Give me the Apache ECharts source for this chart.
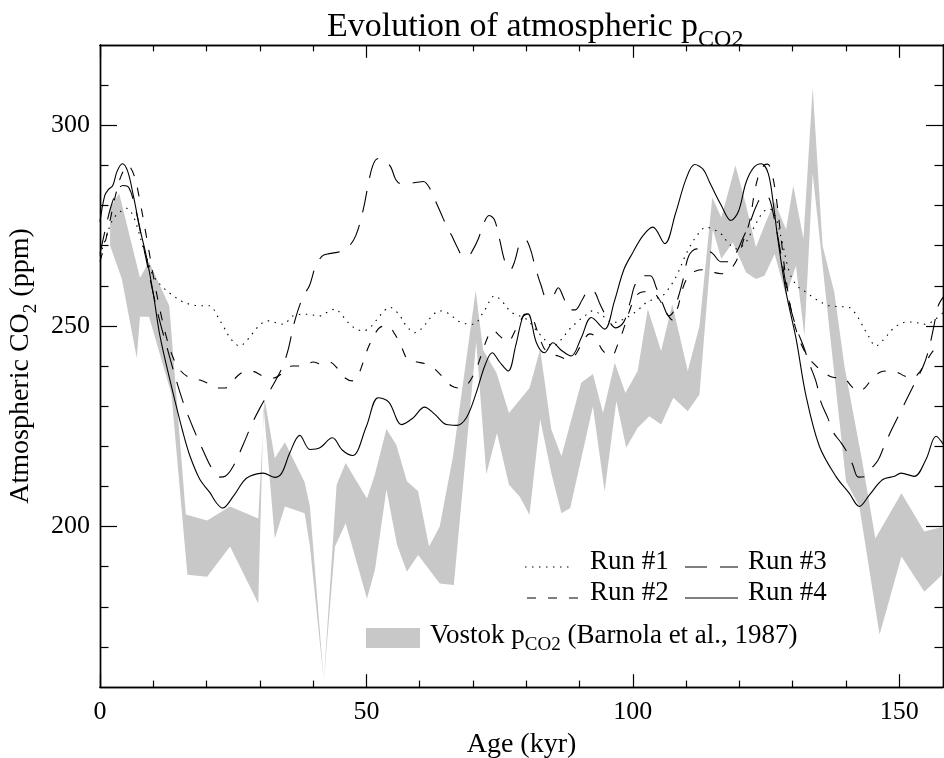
<!DOCTYPE html>
<html>
<head>
<meta charset="utf-8">
<script src="https://cdn.jsdelivr.net/npm/echarts@6/dist/echarts.min.js"></script>
<style>
  html, body { margin: 0; padding: 0; background: #fff; }
  #chart { width: 944px; height: 758px; }
</style>
</head>
<body>
<div id="chart"></div>
<script>
// Axis ticks (kyr and ppm)
const ageMajor = [0, 50, 100, 150];
const ageMinor = [10, 20, 30, 40, 60, 70, 80, 90, 110, 120, 130, 140];
const ppmMajor = [200, 250, 300];
const ppmMinor = [170, 180, 190, 210, 220, 230, 240, 260, 270, 280, 290, 310];

// Vostok ice-core CO2 envelope: upper and lower edges, [age kyr, ppm]
const vostokUpper = [
  [1.9,279.5],[3.6,283],[7.5,262],[9.2,266],[13.0,255],[16.1,203],[20.1,201.5],[24.4,205],
  [29.7,202],[30.9,231.7],[32.8,217],[34.7,221],[38.4,211],[39.4,205],[42.0,161.5],[44.4,210.4],
  [46.1,215.8],[50.1,207],[51.6,213],[53.75,224.3],[55.6,220.4],[57.6,211.3],[59.7,208.8],
  [61.75,195],[63.75,200],[66.25,217.5],[70.5,258.75],[71.9,244],[74.4,238.3],[76.75,228.3],
  [80.6,234.5],[82.6,244.2],[84.7,224.2],[86.6,217.5],[90.3,235.8],[92.5,238],[94.4,228.3],
  [96.6,240.8],[98.6,233.3],[100.9,238.75],[102.8,254.2],[105.3,243.75],[107.4,255.4],
  [110.3,238.75],[112.5,250],[114.9,282],[116.6,277],[119.25,290],[121.25,280],[123.1,269.6],
  [125.0,276],[126.6,281],[128.75,274],[130.1,285],[132.0,271.7],[133.75,309.4],[135.6,270],
  [137.8,258.4],[139.7,240],[143.1,215.8],[145.5,197],[150.4,208.3],[154.7,198.75],[158.3,200]
];
const vostokLower = [
  [1.9,270],[4.1,261.7],[6.9,242],[7.5,252.3],[9.2,252.3],[13.4,233],[16.4,188],[20.1,187.5],
  [24.4,195],[29.7,180.8],[30.7,230],[32.8,197],[34.7,205],[38.4,203.3],[39.4,195],[42.0,161.5],
  [44.1,195],[46.1,200.8],[50.1,182],[51.6,189.2],[53.75,209.2],[55.75,195.4],[57.6,188.75],
  [59.7,192.9],[63.75,185.8],[66.4,185.4],[70.6,246],[72.5,213],[74.5,223.3],[76.75,210.4],
  [78.75,207.5],[80.6,202.9],[82.6,226.7],[84.7,213.3],[86.6,203.3],[88.25,204.6],[92.5,230],
  [94.7,208.75],[96.9,231.25],[98.75,219.6],[100.9,224.6],[103.1,227.5],[105.3,225.4],
  [107.6,232.1],[110.3,228.75],[112.5,232.9],[115.0,274],[116.6,266.7],[118.75,270.8],
  [121.25,263.3],[123.1,261.7],[124.7,262.5],[126.6,267.9],[128.75,257.5],[130.6,265],
  [132.2,247.5],[133.75,288],[136.9,249],[140.0,211.3],[142.5,205],[146.3,173],[150.4,192.5],
  [154.7,183.75],[158.3,188.3]
];

// Model runs, [age kyr, ppm]
const run1 = [
  [0,267.5],[1.25,272.5],[2.5,276.7],[4.1,278.75],[5,279.3],[6,278],[6.9,275],[8,270],[8.75,267.1],
  [10,262.5],[11.9,259.5],[13.75,257.5],[15.5,256],[16.9,255.4],[18.75,255],[20.6,255],[22,252.5],
  [23.1,250],[24.7,246.5],[26.25,245],[27.5,246.3],[28.75,248.3],[30.2,250.5],[31.6,251.25],[33,250.8],
  [34.4,250.4],[36.25,252.5],[38.75,252.9],[41.25,252.5],[42.8,253.5],[44.1,254.2],[45.5,252.5],
  [46.6,250.8],[48,249.3],[49.4,248.75],[51,250],[52.5,252.5],[54.4,254.6],[56,253],[57.5,250],
  [59.1,248.3],[60.5,249.5],[62,252],[63.75,253.75],[65.5,253],[67.5,251],[70,250.4],[72,253.5],
  [74.1,257.5],[75.5,256],[77.2,253.4],[80,251.7],[81.5,249.5],[83.1,247.1],[85,245],[86.5,246.5],
  [88,249],[89.4,250.8],[91,252.5],[92.5,253.75],[94.3,252.5],[96.25,250.8],[98,251.5],[99.4,252.5],
  [101,254],[102.5,255.8],[104,256.7],[105.6,257.5],[108,262],[110.3,268.75],[112.3,273],[113.75,274.6],
  [115.2,274],[116.6,272.9],[118,270.5],[119.4,269.2],[121,270.5],[122.5,274],[124.4,278.3],
  [125.6,279.2],[126.8,277],[128,271],[129.4,263.3],[130.8,260],[132.5,258.4],[134.5,256.5],
  [136.9,255],[138.8,254.8],[140.6,254.6],[141.8,253],[142.8,250.8],[144.2,247.5],[145.6,245],
  [147,246.5],[148.75,249.2],[150.2,250.5],[151.6,251],[153.3,250.8],[155,250.4],[156.6,251.5],[158.3,253.4]
];
const run2 = [
  [0,266],[1,271],[2,277],[3,283],[4,287.5],[5.2,290],[6.4,287.5],[7.5,281],[8.75,272],[10,262.5],
  [11.25,254],[12.5,247],[13.75,242],[15,239],[16.9,237],[18.75,236.5],[20.6,235.5],[22,234.5],
  [23.5,234.5],[25,236.5],[26.9,238.5],[28.5,238.7],[30.6,237.5],[32.5,237],[34.5,238.5],[36,240],
  [38,240],[40,241],[41.5,240.5],[43,241],[44.5,239.5],[46,237],[47.4,236.3],[48.7,238.5],[50,243.5],
  [51.2,247],[52.5,249.6],[54,250],[55.3,248],[56.5,245],[57.8,241.5],[59.5,241],[61.2,240.5],
  [62.6,239.5],[64.5,237],[66,235],[67.5,234.5],[69,235.5],[70.5,239],[71.5,242.5],[72.7,247],
  [73.7,249],[75,247.5],[76.5,246],[78,249],[79.5,252.5],[80.6,253],[82,249],[83.3,244.5],[84.5,243],
  [86,242.5],[87.5,241.8],[89,242.5],[90.2,245],[91.9,248],[92.8,247.5],[94.4,243.75],[96,242.5],
  [97.2,245.5],[98.2,249],[99.3,253.5],[100.6,257.5],[102,258.5],[103.5,258.5],[105,256.5],[106.4,253],
  [107.4,251.5],[108.4,254.5],[109.4,259.5],[110.5,262.5],[111.8,263.7],[113.4,264],[115,263.4],
  [116.6,263],[117.6,263.5],[118.6,264.5],[119.7,267],[120.8,271.5],[121.9,276],[122.8,283],
  [123.6,287.5],[124.6,290],[125.3,290.3],[126.1,288],[126.9,282],[127.8,272],
  [128.7,262],[129.7,254],[131,247.5],[132.5,243],[134,240.5],[135.5,238.8],[137.5,237.2],[139.5,237],
  [141,235],[142.2,233.7],[143.5,234.5],[145,237],[146.5,238.5],[148,238.75],[149.5,238.5],[151,237.5],
  [152.5,237],[153.8,238.5],[155,241],[156.5,244],[158.3,245.5]
];
const run3 = [
  [0,268],[1,274],[2,279.5],[3,283],[4.3,285],[5.4,284.5],[6.5,280],[7.5,274],[8.75,266],[10,258],
  [11.25,251],[12.5,245],[13.75,239],[15.6,231],[17.5,224.5],[19.5,218.5],[21,214.5],[22.5,212.3],
  [23.5,212.5],[25,215],[26.9,220.5],[28.5,225.5],[30,229.5],[31.5,233],[33,236.5],[34.3,240],
  [35.3,244],[36.5,251],[38,257],[39.3,260],[40.5,265],[41.8,267.5],[43,268],[45,268.5],[46.5,269.5],
  [48,272.5],[49.4,279],[50.3,285],[51.2,290],[52.2,291.7],[53.5,291.2],[54.6,289.5],[55.5,286.5],
  [56.5,285.4],[58,285.5],[59.5,285.8],[60.7,286],[62,284],[63,281],[64,278],[65,275],[66,272.5],
  [67,269.7],[68,267.5],[69,267.3],[70,269],[71,271.7],[72,275.5],[73,277.5],[74,276.5],[75,271.5],
  [76,266],[77,264],[77.8,266],[78.8,270.5],[79.8,271.5],[80.8,269],[81.6,265],[82.8,260],[83.8,257],
  [85,257.5],[86,259.5],[87,257],[88.1,254],[89.2,254],[90.5,256.5],[91.8,259],[92.8,258.5],
  [93.8,255.5],[95.3,251.7],[96.8,249.5],[98.3,251],[99.5,256],[100.5,260.5],[102,262.5],[103.3,262.5],
  [104.4,259.5],[105.6,255.5],[106.8,252.5],[107.6,253.5],[108.6,257.5],[109.5,262],[110.5,267.5],
  [112,269.2],[113.5,269],[115,268],[116.5,266],[118,266],[119.5,268.5],[120.6,271.7],[121.9,275.5],
  [123.2,280],[124.5,282.5],[125.5,282],[126.5,277],[127.5,270],[128.5,262],[129.5,255],[130.8,249],
  [132,245],[133,241],[134.4,236],[135.3,231],[136.6,227],[137.6,223.5],[139,221],[140.2,218.5],
  [141.25,215.4],[142.3,212.3],[143.7,212.5],[144.8,214.5],[146,216.5],[147,219.5],[148.5,224],
  [150,228],[151.5,232],[153,236],[154.5,240],[155.5,244],[156.5,250],[157.3,255],[158.3,257.3]
];
const run4 = [
  [0,276],[0.9,282.5],[1.6,284],[2.4,285],[3.2,288.5],[4.2,290.4],[5.2,288.5],[6.25,282.5],[7.5,274.2],
  [8.75,267],[10,258],[11.25,247.5],[13.4,235],[15.6,223.3],[16.9,217.5],[18.75,211.7],[20.6,208.5],
  [21.9,205.8],[23.0,204.6],[25,207.5],[26.9,211.25],[28.1,212.5],[30.6,213.3],[32.8,212.25],
  [34.1,213.3],[35.6,218.3],[37.5,222.7],[39.4,219.2],[41.25,219.6],[43.6,222.1],[45.5,219],
  [47.4,217.7],[50,225],[52.2,232.1],[54.2,231],[56.6,225.4],[58.7,227],[60.9,229.75],[62.8,228],
  [65,225.4],[66.9,225.2],[68.75,227.1],[70.6,233.3],[72.2,240],[73.6,243.3],[75,241],[76.6,238.75],
  [78,245],[79.4,252.5],[80.3,253],[81.9,245.8],[83.4,243.3],[85,245.8],[86.5,244],[88.4,242.5],
  [90.3,247],[92.2,252.1],[94.7,249.2],[96.5,256],[98.3,264],[100,268.3],[101.9,272.5],[103.75,274.6],
  [106,270.5],[108,278],[110,286.7],[111.6,290.2],[113.2,289],[114.4,285.8],[116.6,280],[118.4,276.25],
  [119.8,278.5],[121.25,285.8],[122.7,289.5],[124.1,290.4],[125.4,288],[126.4,280],[127.2,271.7],
  [128.75,258.4],[130.6,247],[132.5,232.5],[135,220],[138.1,212.5],[140.6,208.3],[142.5,205],
  [144.4,207.9],[146.9,211.7],[149.1,212.5],[150.3,213.3],[152.8,212.5],[155,216.7],[156.9,222.5],
  [158.3,220.4]
];

const runNames = ['Run #1', 'Run #2', 'Run #3', 'Run #4'];
const runData = [run1, run2, run3, run4];
const runDash = [[1.5, 5.5], [9, 12], [22, 13], 'solid'];

const SERIF = '"Liberation Serif", "Times New Roman", serif';
const INK = '#000';
const BAND = '#c8c8c8';
const AGE_MAX = 158.2;

const chart = echarts.init(document.getElementById('chart'), null, { renderer: 'canvas' });

function ageAxis(pos, values, len, labels) {
  return {
    type: 'value', position: pos, min: 0, max: AGE_MAX,
    axisLine: { show: true, onZero: false, lineStyle: { color: INK, width: 1.4 } },
    axisTick: { show: true, inside: true, length: len, customValues: values,
                lineStyle: { color: INK, width: 1.2 } },
    axisLabel: labels
      ? { show: true, customValues: values, margin: 12, color: INK, fontFamily: SERIF, fontSize: 26 }
      : { show: false, customValues: values },
    splitLine: { show: false }
  };
}
function ppmAxis(pos, values, len, labels) {
  return {
    type: 'value', position: pos, min: 160, max: 320,
    axisLine: { show: true, onZero: false, lineStyle: { color: INK, width: 1.4 } },
    axisTick: { show: true, inside: true, length: len, customValues: values,
                lineStyle: { color: INK, width: 1.2 } },
    axisLabel: labels
      ? { show: true, customValues: values, margin: 10, color: INK, fontFamily: SERIF, fontSize: 26 }
      : { show: false, customValues: values },
    splitLine: { show: false }
  };
}

const xMain = ageAxis('bottom', ageMajor, 12.8, true);
xMain.name = 'Age (kyr)';
xMain.nameLocation = 'middle';
xMain.nameGap = 44;
xMain.nameTextStyle = { color: INK, fontFamily: SERIF, fontSize: 28 };

const yMain = ppmAxis('left', ppmMajor, 17, true);
yMain.name = '{a|Atmospheric CO}{b|2}{a| (ppm)}';
yMain.nameLocation = 'middle';
yMain.nameGap = 59;
yMain.nameRotate = 90;
yMain.nameTextStyle = {
  color: INK, fontFamily: SERIF, fontSize: 28,
  rich: {
    a: { fontFamily: SERIF, fontSize: 28, color: INK },
    b: { fontFamily: SERIF, fontSize: 19, color: INK, padding: [20, 0, 0, 0] }
  }
};

const series = [{
  type: 'custom',
  name: 'Vostok',
  coordinateSystem: 'cartesian2d',
  xAxisIndex: 0, yAxisIndex: 0,
  clip: true,
  z: 1,
  silent: true,
  encode: { x: 0, y: 1 },
  data: vostokUpper,
  renderItem: function (params, api) {
    if (params.dataIndex !== 0) return null;
    const pts = vostokUpper.map(p => api.coord(p))
      .concat(vostokLower.slice().reverse().map(p => api.coord(p)));
    return { type: 'polygon', shape: { points: pts }, style: { fill: BAND, stroke: null } };
  }
}];
runNames.forEach((name, i) => {
  series.push({
    type: 'line', name: name, data: runData[i],
    xAxisIndex: 0, yAxisIndex: 0,
    showSymbol: false, symbol: 'none', smooth: 0.35, clip: true, z: 3,
    lineStyle: { color: INK, width: 1.1, type: runDash[i] },
    silent: true
  });
});

// Legend block drawn with graphic primitives
function keyLine(x1, x2, y, dash) {
  return { type: 'line', shape: { x1: x1, y1: y, x2: x2, y2: y },
           style: { stroke: INK, lineWidth: 1.1, lineDash: dash === 'solid' ? null : dash } };
}
function label(x, y, text) {
  return { type: 'text', x: x, y: y,
           style: { text: text, fill: INK, font: '27px ' + SERIF, verticalAlign: 'middle', align: 'left' } };
}
const legendGraphics = [
  keyLine(525, 573, 567, runDash[0]), label(590, 562, runNames[0]),
  keyLine(685, 738, 567, runDash[2]), label(748, 562, runNames[2]),
  keyLine(527, 578, 598, runDash[1]), label(590, 593, runNames[1]),
  keyLine(685, 738, 598, runDash[3]), label(748, 593, runNames[3]),
  { type: 'rect', shape: { x: 366, y: 628, width: 54, height: 20 }, style: { fill: BAND } },
  { type: 'text', x: 430, y: 636,
    style: {
      text: '{a|Vostok p}{b|CO2}{a| (Barnola et al., 1987)}',
      verticalAlign: 'middle', align: 'left',
      rich: {
        a: { fontFamily: SERIF, fontSize: 27, fill: INK },
        b: { fontFamily: SERIF, fontSize: 19, fill: INK, padding: [19, 0, 0, 0] }
      }
    } }
];

chart.setOption({
  animation: false,
  backgroundColor: '#fff',
  title: {
    text: '{a|Evolution of atmospheric p}{b|CO2}',
    left: 322, top: -2,
    textStyle: {
      fontWeight: 'normal',
      rich: {
        a: { fontFamily: SERIF, fontSize: 34, fontWeight: 'normal', color: INK },
        b: { fontFamily: SERIF, fontSize: 24, fontWeight: 'normal', color: INK, padding: [25, 0, 0, 0] }
      }
    }
  },
  grid: { left: 100, right: 1, top: 45, bottom: 71, containLabel: false, outerBoundsMode: 'none' },
  xAxis: [
    xMain,
    ageAxis('bottom', ageMinor, 6.4, false),
    ageAxis('top', ageMajor, 12.8, false),
    ageAxis('top', ageMinor, 6.4, false)
  ],
  yAxis: [
    yMain,
    ppmAxis('left', ppmMinor, 8.5, false),
    ppmAxis('right', ppmMajor, 17, false),
    ppmAxis('right', ppmMinor, 8.5, false)
  ],
  graphic: legendGraphics,
  series: series
});
</script>
</body>
</html>
